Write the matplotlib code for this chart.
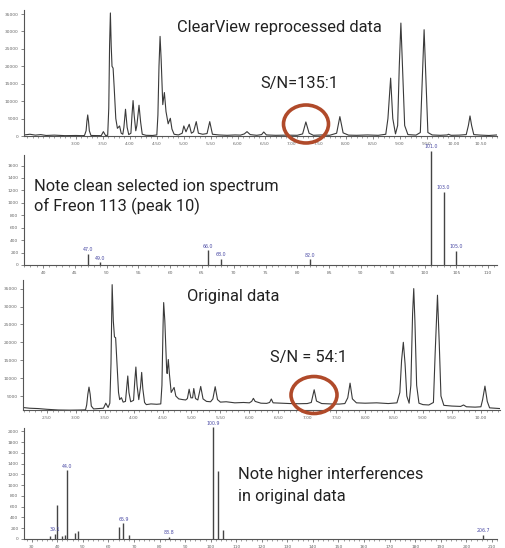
import matplotlib
matplotlib.use("Agg")
import matplotlib.pyplot as plt
from matplotlib.patches import Ellipse
from matplotlib.ticker import MultipleLocator, FormatStrFormatter

# ClearView reprocessed chromatogram (time in min, abundance)
clear_time = [2.04, 2.15, 2.25, 2.35, 2.45, 2.60, 2.80, 3.00, 3.12,
              3.16, 3.19, 3.205, 3.22, 3.235, 3.25, 3.28, 3.40, 3.47, 3.51, 3.55,
              3.59, 3.61, 3.625, 3.64, 3.655, 3.67, 3.69, 3.71, 3.74, 3.77, 3.81, 3.84, 3.87,
              3.89, 3.92, 3.95, 3.98, 4.02, 4.04, 4.06, 4.08, 4.11, 4.13, 4.17, 4.20, 4.23,
              4.30, 4.42, 4.50, 4.52, 4.54, 4.56, 4.58, 4.61, 4.64, 4.67, 4.71, 4.75, 4.78,
              4.82, 4.90, 4.97, 5.00, 5.04, 5.10, 5.14, 5.18, 5.23, 5.27, 5.35, 5.43, 5.48,
              5.53, 5.65, 5.80, 5.95, 6.05, 6.12, 6.17, 6.23, 6.35, 6.44, 6.48, 6.53, 6.70,
              6.90, 7.10, 7.20, 7.26, 7.32, 7.40, 7.55, 7.70, 7.83, 7.89, 7.95, 8.05, 8.20,
              8.40, 8.60, 8.74, 8.78, 8.83, 8.87, 8.92, 8.96, 8.99, 9.02, 9.05, 9.09, 9.15,
              9.30, 9.38, 9.42, 9.45, 9.48, 9.52, 9.60, 9.75, 9.88, 9.90, 9.95, 10.10, 10.23,
              10.27, 10.30, 10.33, 10.37, 10.50, 10.65, 10.80]
clear_abund = [300, 500, 250, 400, 150, 250, 100, 150, 100,
               150, 1500, 4200, 6040, 4200, 1500, 150, 100, 100, 1250, 150,
               200, 8000, 26000, 35300, 26000, 20000, 19470, 14000, 5000, 2200, 2880, 800, 500,
               2500, 7670, 2500, 400, 800, 6000, 10170, 6000, 1500, 3000, 8820, 4000, 500,
               200, 150, 300, 6000, 20000, 28580, 22000, 9000, 12470, 7000, 3500, 5080, 2000,
               500, 300, 800, 2880, 1200, 3360, 800, 1200, 4120, 800, 500, 700, 4120,
               500, 300, 200, 300, 250, 600, 1250, 400, 200, 400, 1150, 300, 200,
               250, 200, 600, 4030, 800, 200, 300, 200, 800, 5560, 900, 250, 200,
               300, 200, 500, 5000, 16600, 5000, 600, 3000, 20000, 32400, 20000, 3000, 400,
               250, 1000, 18000, 30500, 18000, 1000, 300, 200, 300, 500, 200, 250, 400,
               3000, 5750, 3000, 400, 250, 150, 300]

# Original chromatogram
orig_time = [2.09, 2.20, 2.35, 2.50, 2.70, 2.90, 3.10, 3.17,
             3.19, 3.21, 3.23, 3.25, 3.27, 3.31, 3.40, 3.48, 3.52, 3.56,
             3.59, 3.61, 3.63, 3.65, 3.67, 3.69, 3.71, 3.74, 3.76, 3.79, 3.82, 3.86,
             3.88, 3.90, 3.92, 3.95, 4.00, 4.02, 4.04, 4.06, 4.09, 4.12, 4.14, 4.16, 4.19,
             4.22, 4.30, 4.40, 4.47, 4.49, 4.51, 4.52, 4.54, 4.57, 4.58, 4.60, 4.62, 4.65,
             4.70, 4.73, 4.78, 4.85, 4.90, 4.93, 4.96, 4.99, 5.02, 5.04, 5.07, 5.11, 5.16,
             5.20, 5.26, 5.33, 5.37, 5.41, 5.45, 5.50, 5.60, 5.75, 5.90, 6.00, 6.04, 6.07,
             6.10, 6.20, 6.30, 6.35, 6.38, 6.41, 6.55, 6.70, 6.85, 7.00, 7.07, 7.12, 7.16,
             7.25, 7.40, 7.55, 7.65, 7.70, 7.74, 7.78, 7.85, 8.00, 8.20, 8.40, 8.55, 8.60,
             8.63, 8.66, 8.69, 8.72, 8.76, 8.79, 8.82, 8.84, 8.86, 8.89, 8.93, 9.00, 9.10,
             9.18, 9.21, 9.25, 9.28, 9.31, 9.36, 9.50, 9.65, 9.70, 9.75, 9.90, 10.00, 10.03,
             10.07, 10.11, 10.15, 10.25, 10.33]
orig_abund = [1800, 1600, 1500, 1300, 1100, 1050, 1100, 1150,
              2500, 5500, 7490, 5500, 2200, 1400, 1500, 1600, 3000, 1800,
              3000, 14000, 36100, 26000, 21500, 21300, 15000, 6000, 4000, 4540, 3300, 3500,
              7000, 10600, 6000, 3400, 3800, 9000, 13100, 8000, 4000, 7500, 11600, 7000, 3200,
              2600, 2800, 2700, 2800, 8000, 25000, 31100, 26000, 13000, 11300, 15200, 11000, 6000,
              7400, 5000, 4200, 4000, 3900, 4300, 6900, 4500, 4500, 7100, 4300, 3900, 7680,
              4200, 3500, 3400, 4200, 7600, 4000, 3300, 3400, 3100, 3200, 3100, 3500, 4350,
              3500, 3000, 2950, 3200, 4170, 3100, 3000, 2900, 2850, 2900, 3200, 6750, 3600,
              2900, 2800, 2750, 2900, 4500, 8600, 4200, 3100, 3000, 3100, 2900, 3100, 6000,
              15000, 20000, 14000, 5000, 3000, 8000, 28000, 35000, 26000, 8000, 3000, 2600, 2500,
              3200, 17000, 33150, 20000, 5000, 2400, 2200, 2100, 2500, 2000, 1900, 2000, 4000,
              7770, 3500, 1700, 1600, 1500]

# Clean selected ion spectrum (m/z, abundance)
clean_mz = [47.0, 49.0, 66.0, 68.0, 82.0, 101.0, 103.0, 105.0]
clean_abund = [180, 45, 240, 100, 90, 1840, 1180, 225]
clean_labels = ["47.0", "49.0", "66.0", "68.0", "82.0", "101.0", "103.0", "105.0"]

# Original spectrum
orig_mz = [37.0, 39.1, 40.0, 42.0, 43.0, 44.0, 47.0, 48.0, 64.0, 65.9, 67.9,
           83.8, 100.9, 102.9, 104.9, 206.7]
orig_spec = [50, 100, 640, 60, 70, 1280, 120, 150, 230, 290, 80,
             40, 2080, 1260, 160, 80]
orig_labels = ["", "39.1", "", "", "", "44.0", "", "", "", "65.9", "",
               "83.8", "100.9", "", "", "206.7"]

W, H = 505, 548
LINE = "#3a3a3a"
LABEL_BLUE = "#4b4ba5"
CIRCLE = "#b04a2a"
ANNOT_FONT = ["Roboto", "DejaVu Sans"]


def px_axes(fig, left, top, right, bottom):
    return fig.add_axes([left / W, 1 - bottom / H, (right - left) / W, (bottom - top) / H])


def style_axes(ax):
    for side in ["top", "right"]:
        ax.spines[side].set_visible(False)
    for side in ["left", "bottom"]:
        ax.spines[side].set_color("#555555")
        ax.spines[side].set_linewidth(0.8)
    ax.tick_params(which="major", length=2.5, width=0.5, labelsize=3.2,
                   labelcolor="#666666", color="#555555", pad=1.5)
    ax.tick_params(which="minor", length=1.5, width=0.4, color="#555555")


def fig_text(fig, x, y, s):
    # y is the baseline in pixels from the top
    fig.text(x / W, 1 - y / H, s, color="#222222", ha="left", va="baseline",
             family=ANNOT_FONT, fontsize=11.8)


def circle(fig, cx, cy, w, h):
    fig.add_artist(Ellipse((cx / 100, (H - cy) / 100), w / 100, h / 100,
                           transform=fig.dpi_scale_trans, fill=False,
                           edgecolor=CIRCLE, linewidth=2.6))


fig = plt.figure(figsize=(W / 100, H / 100), dpi=100)

# panel 1: ClearView chromatogram
ax1 = px_axes(fig, 24, 10, 497, 136)
ax1.plot(clear_time, clear_abund, color=LINE, linewidth=0.8)
ax1.set_xlim(2.04, 10.80)
ax1.set_ylim(0, 36150)
ax1.set_yticks(range(0, 35001, 5000))
ax1.set_xticks([3.0 + 0.5 * i for i in range(16)])
ax1.xaxis.set_minor_locator(MultipleLocator(0.1))
ax1.xaxis.set_major_formatter(FormatStrFormatter("%.2f"))
style_axes(ax1)

# panel 2: clean spectrum
ax2 = px_axes(fig, 24, 155, 497, 265)
ax2.vlines(clean_mz, 0, clean_abund, color="#444444", linewidth=1.0, clip_on=False)
for mz, ab, lab in zip(clean_mz, clean_abund, clean_labels):
    ax2.text(mz, ab + 25, lab, fontsize=3.4, color=LABEL_BLUE, ha="center", va="bottom")
ax2.set_xlim(37, 111.4)
ax2.set_ylim(0, 1770)
ax2.set_yticks(range(0, 1601, 200))
ax2.set_xticks(range(40, 111, 5))
ax2.xaxis.set_minor_locator(MultipleLocator(1))
style_axes(ax2)

# panel 3: original chromatogram
ax3 = px_axes(fig, 23, 280, 500, 410)
ax3.plot(orig_time, orig_abund, color=LINE, linewidth=0.8)
ax3.set_xlim(2.09, 10.33)
ax3.set_ylim(1100, 37400)
ax3.set_yticks(range(5000, 35001, 5000))
ax3.set_xticks([2.5 + 0.5 * i for i in range(16)])
ax3.xaxis.set_minor_locator(MultipleLocator(0.1))
ax3.xaxis.set_major_formatter(FormatStrFormatter("%.2f"))
style_axes(ax3)

# panel 4: original spectrum
ax4 = px_axes(fig, 24, 428, 497, 539)
ax4.vlines(orig_mz, 0, orig_spec, color="#444444", linewidth=1.0, clip_on=False)
for mz, ab, lab in zip(orig_mz, orig_spec, orig_labels):
    if lab:
        ax4.text(mz, ab + 25, lab, fontsize=3.4, color=LABEL_BLUE, ha="center", va="bottom")
ax4.set_xlim(27, 212)
ax4.set_ylim(0, 2060)
ax4.set_yticks(range(0, 2001, 200))
ax4.set_xticks(range(30, 211, 10))
ax4.xaxis.set_minor_locator(MultipleLocator(2))
style_axes(ax4)

# annotations
fig_text(fig, 177, 32, "ClearView reprocessed data")
fig_text(fig, 260, 88, "S/N=135:1")
circle(fig, 306, 124, 45, 38)
fig_text(fig, 34, 191, "Note clean selected ion spectrum")
fig_text(fig, 34, 211, "of Freon 113 (peak 10)")
fig_text(fig, 187, 301, "Original data")
fig_text(fig, 270, 362, "S/N = 54:1")
circle(fig, 314, 395, 46, 37)
fig_text(fig, 238, 479, "Note higher interferences")
fig_text(fig, 238, 501, "in original data")

fig.savefig("out.png", dpi=100)
